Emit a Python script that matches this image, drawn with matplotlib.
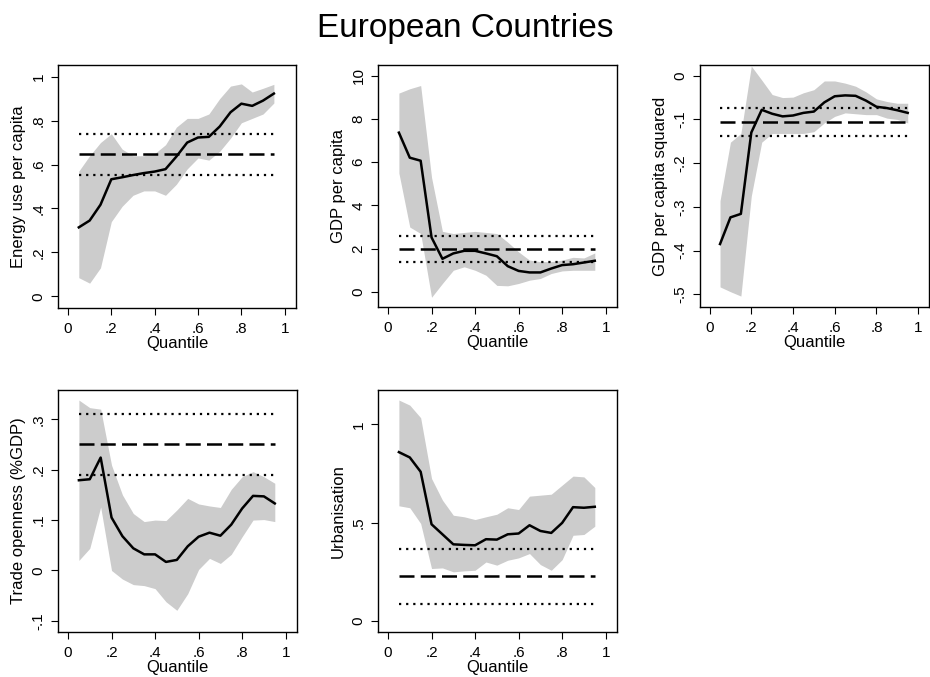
import numpy as np
import matplotlib
matplotlib.use("Agg")
import matplotlib.pyplot as plt
from matplotlib.ticker import FuncFormatter

plt.rcParams['font.family'] = ['Liberation Sans', 'DejaVu Sans']

quantiles = np.arange(1, 20) * 0.05

# Energy use per capita
energy_coef = [0.314, 0.345, 0.417, 0.533, 0.542, 0.552, 0.561, 0.568, 0.579, 0.636,
               0.700, 0.723, 0.726, 0.773, 0.838, 0.877, 0.867, 0.891, 0.923]
energy_hi = [0.57, 0.64, 0.70, 0.74, 0.67, 0.64, 0.64, 0.65, 0.69, 0.77,
             0.81, 0.81, 0.83, 0.90, 0.957, 0.967, 0.93, 0.947, 0.965]
energy_lo = [0.085, 0.06, 0.13, 0.34, 0.41, 0.46, 0.48, 0.48, 0.46, 0.51,
             0.58, 0.63, 0.62, 0.66, 0.72, 0.79, 0.81, 0.83, 0.88]
energy_ols = [0.647, 0.741, 0.553]

# GDP per capita
gdp_coef = [7.37, 6.21, 6.07, 2.52, 1.53, 1.78, 1.90, 1.90, 1.78, 1.65,
            1.19, 0.97, 0.90, 0.90, 1.08, 1.24, 1.28, 1.36, 1.44]
gdp_hi = [9.2, 9.4, 9.55, 5.3, 2.8, 2.7, 2.75, 2.8, 2.75, 2.7,
          2.3, 1.85, 1.47, 1.4, 1.4, 1.47, 1.6, 1.57, 1.8]
gdp_lo = [5.5, 3.0, 2.7, -0.25, 0.39, 1.0, 1.16, 1.0, 0.77, 0.3,
          0.28, 0.39, 0.54, 0.62, 0.85, 0.97, 1.0, 1.0, 1.0]
gdp_ols = [2.0, 2.6, 1.39]

# GDP per capita squared
gdp2_coef = [-0.385, -0.324, -0.316, -0.130, -0.078, -0.087, -0.093, -0.091, -0.085, -0.082,
             -0.061, -0.047, -0.045, -0.046, -0.057, -0.071, -0.074, -0.079, -0.085]
gdp2_hi = [-0.286, -0.152, -0.132, 0.022, -0.010, -0.043, -0.050, -0.049, -0.039, -0.032,
           -0.012, -0.012, -0.017, -0.024, -0.037, -0.053, -0.059, -0.063, -0.063]
gdp2_lo = [-0.483, -0.494, -0.504, -0.275, -0.152, -0.132, -0.132, -0.132, -0.132, -0.128,
           -0.108, -0.093, -0.085, -0.087, -0.089, -0.089, -0.097, -0.100, -0.108]
gdp2_ols = [-0.106, -0.073, -0.138]

# Trade openness
trade_coef = [0.179, 0.181, 0.224, 0.105, 0.068, 0.044, 0.032, 0.032, 0.017, 0.021,
              0.048, 0.067, 0.075, 0.069, 0.091, 0.123, 0.148, 0.147, 0.133]
trade_hi = [0.338, 0.323, 0.320, 0.209, 0.150, 0.113, 0.097, 0.100, 0.099, 0.120,
            0.143, 0.132, 0.128, 0.125, 0.161, 0.186, 0.196, 0.186, 0.173]
trade_lo = [0.020, 0.044, 0.126, 0.000, -0.017, -0.028, -0.030, -0.036, -0.062, -0.079,
            -0.046, 0.002, 0.024, 0.014, 0.032, 0.067, 0.100, 0.101, 0.097]
trade_ols = [0.251, 0.311, 0.189]

# Urbanisation
urban_coef = [0.859, 0.832, 0.759, 0.492, 0.441, 0.390, 0.387, 0.385, 0.416, 0.414,
              0.441, 0.445, 0.487, 0.458, 0.448, 0.499, 0.579, 0.576, 0.581]
urban_hi = [1.124, 1.098, 1.034, 0.725, 0.615, 0.538, 0.530, 0.516, 0.530, 0.543,
            0.576, 0.567, 0.635, 0.640, 0.645, 0.691, 0.737, 0.733, 0.679]
urban_lo = [0.586, 0.576, 0.496, 0.267, 0.270, 0.250, 0.255, 0.258, 0.300, 0.284,
            0.309, 0.321, 0.343, 0.287, 0.258, 0.312, 0.436, 0.440, 0.482]
urban_ols = [0.228, 0.368, 0.085]


def stata_fmt(v, pos):
    # Stata style labels: .2 instead of 0.2
    s = ('%g' % round(v, 6))
    if s.startswith('0.'):
        s = s[1:]
    elif s.startswith('-0.'):
        s = '-' + s[2:]
    return s


# label, coef, upper, lower, ols (est, hi, lo), yticks, ylim, axes box in pixels
panels = [
    ("Energy use per capita", energy_coef, energy_hi, energy_lo, energy_ols,
     [0, 0.2, 0.4, 0.6, 0.8, 1.0], (-0.053, 1.053), (58, 65, 296, 308)),
    ("GDP per capita", gdp_coef, gdp_hi, gdp_lo, gdp_ols,
     [0, 2, 4, 6, 8, 10], (-0.7, 10.5), (378, 65, 617, 307)),
    ("GDP per capita squared", gdp2_coef, gdp2_hi, gdp2_lo, gdp2_ols,
     [-0.5, -0.4, -0.3, -0.2, -0.1, 0], (-0.529, 0.0245), (700, 65, 929, 307)),
    ("Trade openness (%GDP)", trade_coef, trade_hi, trade_lo, trade_ols,
     [-0.1, 0, 0.1, 0.2, 0.3], (-0.122, 0.358), (58, 390, 297, 632)),
    ("Urbanisation", urban_coef, urban_hi, urban_lo, urban_ols,
     [0, 0.5, 1.0], (-0.056, 1.175), (378, 390, 617, 632)),
]

W, H = 930, 677
fig = plt.figure(figsize=(W / 100, H / 100), dpi=100)
fig.text(0.5, 1 - 28 / H, "European Countries", ha='center', va='center', fontsize=24)

for label, coef, hi, lo, ols, yticks, ylim, (x0, y0, x1, y1) in panels:
    ax = fig.add_axes([x0 / W, 1 - y1 / H, (x1 - x0) / W, (y1 - y0) / H])
    ax.fill_between(quantiles, lo, hi, color='#cccccc', lw=0)
    ax.plot(quantiles, coef, color='black', lw=1.8)
    ax.hlines(ols[0], 0.05, 0.95, colors='black', linestyles=(0, (6, 2.5)), lw=1.8)
    ax.hlines(ols[1:], 0.05, 0.95, colors='black', linestyles=(0, (1, 2.2)), lw=1.6)
    ax.set_xlim(-0.046, 1.052)
    ax.set_ylim(*ylim)
    ax.set_xticks([0, 0.2, 0.4, 0.6, 0.8, 1.0])
    ax.set_yticks(yticks)
    ax.xaxis.set_major_formatter(FuncFormatter(stata_fmt))
    ax.yaxis.set_major_formatter(FuncFormatter(stata_fmt))
    ax.tick_params(direction='out', length=5, width=0.8, labelsize=11)
    ax.tick_params(axis='x', pad=5)
    ax.tick_params(axis='y', pad=4)
    for t in ax.get_yticklabels():
        t.set_rotation(90)
        t.set_va('center')
    ax.set_ylabel(label, fontsize=12, labelpad=4)
    ax.set_xlabel("Quantile", fontsize=12, labelpad=0)
    for sp in ax.spines.values():
        sp.set_linewidth(1.0)

fig.savefig("out.png", dpi=100)
